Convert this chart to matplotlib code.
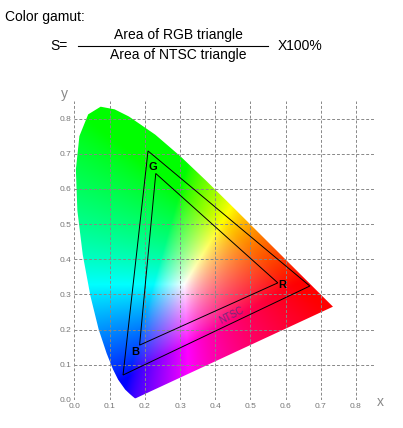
import numpy as np
import matplotlib
matplotlib.use("Agg")
import matplotlib.pyplot as plt
from matplotlib.path import Path
from matplotlib.patches import PathPatch

plt.rcParams['font.family'] = ['Liberation Sans', 'DejaVu Sans']

# CIE 1931 spectral locus (x, y)
locus_x = [0.1741, 0.1714, 0.1644, 0.1566, 0.1440, 0.1241, 0.1096, 0.0913, 0.0687, 0.0454,
           0.0235, 0.0082, 0.0039, 0.0139, 0.0389, 0.0743, 0.1142, 0.1547, 0.2296, 0.3016,
           0.3731, 0.4441, 0.5125, 0.5752, 0.6270, 0.6915, 0.7190, 0.7347]
locus_y = [0.0050, 0.0051, 0.0109, 0.0177, 0.0297, 0.0578, 0.0868, 0.1327, 0.2007, 0.2950,
           0.4127, 0.5384, 0.6548, 0.7502, 0.8120, 0.8338, 0.8262, 0.8059, 0.7543, 0.6923,
           0.6245, 0.5547, 0.4866, 0.4242, 0.3725, 0.3083, 0.2809, 0.2653]

# triangles: R, G, B
ntsc_x = [0.669, 0.209, 0.138]
ntsc_y = [0.324, 0.708, 0.071]
rgb_x = [0.578, 0.231, 0.185]
rgb_y = [0.333, 0.644, 0.156]

fig = plt.figure(figsize=(4.03, 4.28), dpi=100)
ax = fig.add_axes([74/403, 28/428, 300/403, 299/428])

# colour fill of the horseshoe
n = 400
gx, gy = np.meshgrid(np.linspace(0, 0.85, n), np.linspace(0, 0.85, n))
gy_s = np.maximum(gy, 1e-3)
X = gx / gy_s
Y = np.ones_like(gx)
Z = (1 - gx - gy) / gy_s
r = 3.2406*X - 1.5372*Y - 0.4986*Z
g = -0.9689*X + 1.8758*Y + 0.0415*Z
b = 0.0557*X - 0.2040*Y + 1.0570*Z
rgb = np.clip(np.stack([r, g, b], -1), 0, None)
rgb = rgb / np.maximum(rgb.max(-1, keepdims=True), 1e-6)
rgb = rgb ** 1.6  # more saturated, smaller white centre
rgb = np.where(rgb <= 0.0031308, 12.92*rgb, 1.055*rgb**(1/2.4) - 0.055)
img = ax.imshow(rgb, origin='lower', extent=[0, 0.85, 0, 0.85], interpolation='bilinear', zorder=1)
clip = PathPatch(Path(np.column_stack([locus_x, locus_y]), closed=False), transform=ax.transData)
img.set_clip_path(clip)

ax.fill(ntsc_x, ntsc_y, fill=False, ec='black', lw=0.7, zorder=3)
ax.fill(rgb_x, rgb_y, fill=False, ec='black', lw=0.7, zorder=3)
ax.text(0.222, 0.663, 'G', fontsize=8, fontweight='bold', ha='center', va='center', zorder=4)
ax.text(0.173, 0.137, 'B', fontsize=8, fontweight='bold', ha='center', va='center', zorder=4)
ax.text(0.590, 0.328, 'R', fontsize=8, fontweight='bold', ha='center', va='center', zorder=4)
ax.text(0.447, 0.241, 'NTSC', fontsize=7, color='#6a2a7a', rotation=27, ha='center', va='center', zorder=4)

ax.set_xlim(0, 0.85)
ax.set_ylim(0, 0.85)
ticks = [0.0, 0.1, 0.2, 0.3, 0.4, 0.5, 0.6, 0.7, 0.8]
ax.set_xticks(ticks)
ax.set_yticks(ticks)
ax.set_xticklabels([f'{t:.1f}' for t in ticks])
ax.set_yticklabels([f'{t:.1f}' for t in ticks])
ax.tick_params(length=0, labelsize=6, labelcolor='#777777', pad=2)
ax.grid(True, ls=(0, (3, 2)), color='#888888', lw=0.7, zorder=2)
ax.set_axisbelow(False)
for s in ax.spines.values():
    s.set_visible(False)
ax.text(-0.03, 0.87, 'y', fontsize=10, color='#888888', ha='center', va='center', clip_on=False)
ax.text(0.87, -0.005, 'x', fontsize=10, color='#888888', ha='center', va='center', clip_on=False)

fig.text(5/403, 1 - 17/428, 'Color gamut:', fontsize=10, va='center')
fig.text(50/403, 1 - 46/428, 'S=', fontsize=10, va='center')
fig.text(178/403, 1 - 35/428, 'Area of RGB triangle', fontsize=10, va='center', ha='center')
fig.text(178/403, 1 - 55/428, 'Area of NTSC triangle', fontsize=10, va='center', ha='center')
fig.add_artist(plt.Line2D([78/403, 268/403], [1 - 46/428, 1 - 46/428], color='black', lw=0.8))
fig.text(278/403, 1 - 46/428, 'X100%', fontsize=10, va='center')

fig.savefig('out.png', dpi=100)
